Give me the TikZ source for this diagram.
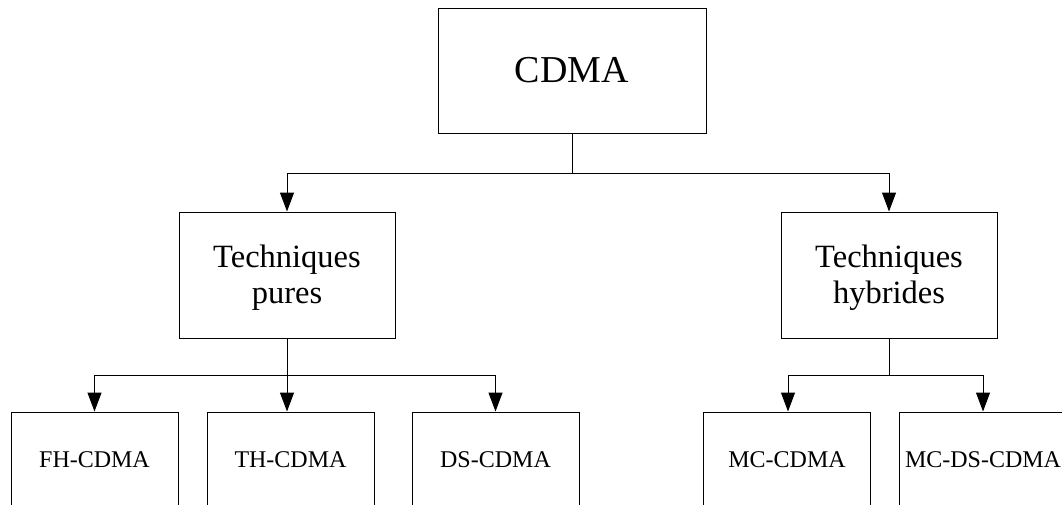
\documentclass[tikz,border=0pt]{standalone}
\usepackage{fontspec}
\setmainfont{Liberation Serif}
\usetikzlibrary{arrows.meta}
\tikzset{
  box/.style={draw,line width=1pt,inner sep=0pt,align=center},
  midbox/.style={box,minimum width=216pt,minimum height=126pt,font=\fontsize{32.5}{36}\selectfont},
  leafbox/.style={box,minimum width=167pt,minimum height=96pt,font=\fontsize{24}{28}\selectfont},
  arr/.style={-{Triangle[length=19pt,width=14pt]},line width=1pt},
}
\begin{document}
\begin{tikzpicture}[x=1pt,y=-1pt]
  \useasboundingbox (0,0) rectangle (1062,504);

  \node[box,minimum width=268pt,minimum height=125pt,font=\fontsize{38}{44}\selectfont] (cdma) at (572,70.5) {CDMA};
  \node[midbox,text depth=1pt] (pures) at (287,275) {Techniques\\ pures};
  \node[midbox,text depth=1pt] (hybrides) at (889,275) {Techniques\\hybrides};

  \foreach \name/\x/\txt in {fh/94.5/FH-CDMA,th/290.5/TH-CDMA,ds/495.5/DS-CDMA,mc/787/MC-CDMA,mcds/983/MC-DS-CDMA}
    \node[leafbox] (\name) at (\x,460) {\txt};

  % first level
  \coordinate (j1) at (572,173);
  \draw[line width=1pt] (cdma.south) -- (j1);
  \draw[arr] (j1) -| (pures.north);
  \draw[arr] (j1) -| (hybrides.north);

  % pure techniques
  \coordinate (j2) at (287,375);
  \draw[line width=1pt] (pures.south) -- (j2);
  \draw[arr] (j2) -| (fh.north);
  \draw[arr] (j2) -- (j2 |- th.north);
  \draw[arr] (j2) -| (ds.north);

  % hybrid techniques
  \coordinate (j3) at (889,375);
  \draw[line width=1pt] (hybrides.south) -- (j3);
  \draw[arr] (j3) -| ([xshift=1pt]mc.north);
  \draw[arr] (j3) -| (mcds.north);
\end{tikzpicture}
\end{document}
